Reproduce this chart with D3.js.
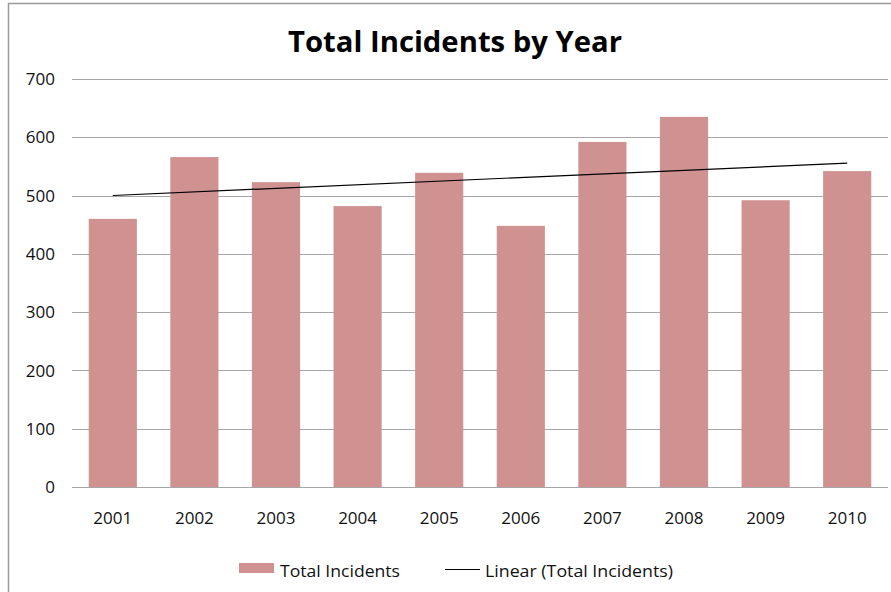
<!DOCTYPE html>
<html>
<head>
<meta charset="utf-8">
<script src="https://cdn.jsdelivr.net/npm/d3@7"></script>
<style>
  body { margin: 0; background: #fff; }
  svg { display: block; font-family: "Open Sans", "DejaVu Sans", sans-serif; }
</style>
</head>
<body>
<svg id="chart" width="891" height="592"></svg>
<script>
// chart data
const years = ['2001', '2002', '2003', '2004', '2005', '2006', '2007', '2008', '2009', '2010'];
const incidents = [460, 566, 523, 482, 539, 448, 592, 635, 492, 542];
const yTicks = [0, 100, 200, 300, 400, 500, 600, 700];

const margin = {top: 79, right: 3, bottom: 105, left: 72};
const width = 891, height = 592;
const barColor = '#d09191';

const svg = d3.select('#chart');

// outer frame
svg.append('rect')
  .attr('x', 8.5).attr('y', 3.5)
  .attr('width', 900).attr('height', 600)
  .attr('fill', 'none')
  .attr('stroke', '#9a9a9a')
  .attr('stroke-width', 1.5);

const x = d3.scaleBand()
  .domain(years)
  .range([margin.left, width - margin.right])
  .paddingInner(0.41)
  .paddingOuter(0.205);

const y = d3.scaleLinear()
  .domain([0, 700])
  .range([height - margin.bottom, margin.top]);

// gridlines
svg.append('g')
  .selectAll('line')
  .data(yTicks)
  .join('line')
  .attr('x1', margin.left)
  .attr('x2', width - margin.right)
  .attr('y1', d => Math.round(y(d)) + 0.5)
  .attr('y2', d => Math.round(y(d)) + 0.5)
  .attr('stroke', '#a6a6a6')
  .attr('stroke-width', 1.2);

// y labels
svg.append('g')
  .selectAll('text')
  .data(yTicks)
  .join('text')
  .attr('x', 55)
  .attr('y', d => y(d))
  .attr('dy', '0.36em')
  .attr('text-anchor', 'end')
  .attr('font-size', 17)
  .attr('fill', '#111')
  .text(d => d);

// bars
svg.append('g')
  .selectAll('rect')
  .data(incidents)
  .join('rect')
  .attr('x', (d, i) => x(years[i]))
  .attr('y', d => y(d))
  .attr('width', x.bandwidth())
  .attr('height', d => y(0) - y(d))
  .attr('fill', barColor);

// x labels
svg.append('g')
  .selectAll('text')
  .data(years)
  .join('text')
  .attr('x', d => x(d) + x.bandwidth() / 2)
  .attr('y', 524)
  .attr('text-anchor', 'middle')
  .attr('font-size', 17)
  .attr('fill', '#111')
  .text(d => d);

// linear trend (least squares over the bars)
const idx = incidents.map((d, i) => i + 1);
const mx = d3.mean(idx), my = d3.mean(incidents);
const slope = d3.sum(idx, (v, i) => (v - mx) * (incidents[i] - my)) / d3.sum(idx, v => (v - mx) ** 2);
const icpt = my - slope * mx;
const trend = [years[0], years[years.length - 1]].map(yr => {
  const k = years.indexOf(yr) + 1;
  return [x(yr) + x.bandwidth() / 2, y(icpt + slope * k)];
});
svg.append('path')
  .attr('d', d3.line()(trend))
  .attr('fill', 'none')
  .attr('stroke', '#000')
  .attr('stroke-width', 1.2);

// title
svg.append('text')
  .attr('x', 455)
  .attr('y', 52)
  .attr('text-anchor', 'middle')
  .attr('font-size', 29)
  .attr('font-weight', 'bold')
  .attr('textLength', 334)
  .attr('lengthAdjust', 'spacingAndGlyphs')
  .attr('fill', '#000')
  .text('Total Incidents by Year');

// legend
const legend = svg.append('g').attr('font-size', 16).attr('fill', '#111');
legend.append('rect')
  .attr('x', 239).attr('y', 563)
  .attr('width', 35).attr('height', 10)
  .attr('fill', barColor);
legend.append('text')
  .attr('x', 280).attr('y', 577)
  .attr('textLength', 120)
  .attr('lengthAdjust', 'spacingAndGlyphs')
  .text('Total Incidents');
legend.append('line')
  .attr('x1', 445).attr('x2', 480)
  .attr('y1', 569.5).attr('y2', 569.5)
  .attr('stroke', '#000')
  .attr('stroke-width', 1.2);
legend.append('text')
  .attr('x', 485).attr('y', 577)
  .attr('textLength', 188)
  .attr('lengthAdjust', 'spacingAndGlyphs')
  .text('Linear (Total Incidents)');
</script>
</body>
</html>
